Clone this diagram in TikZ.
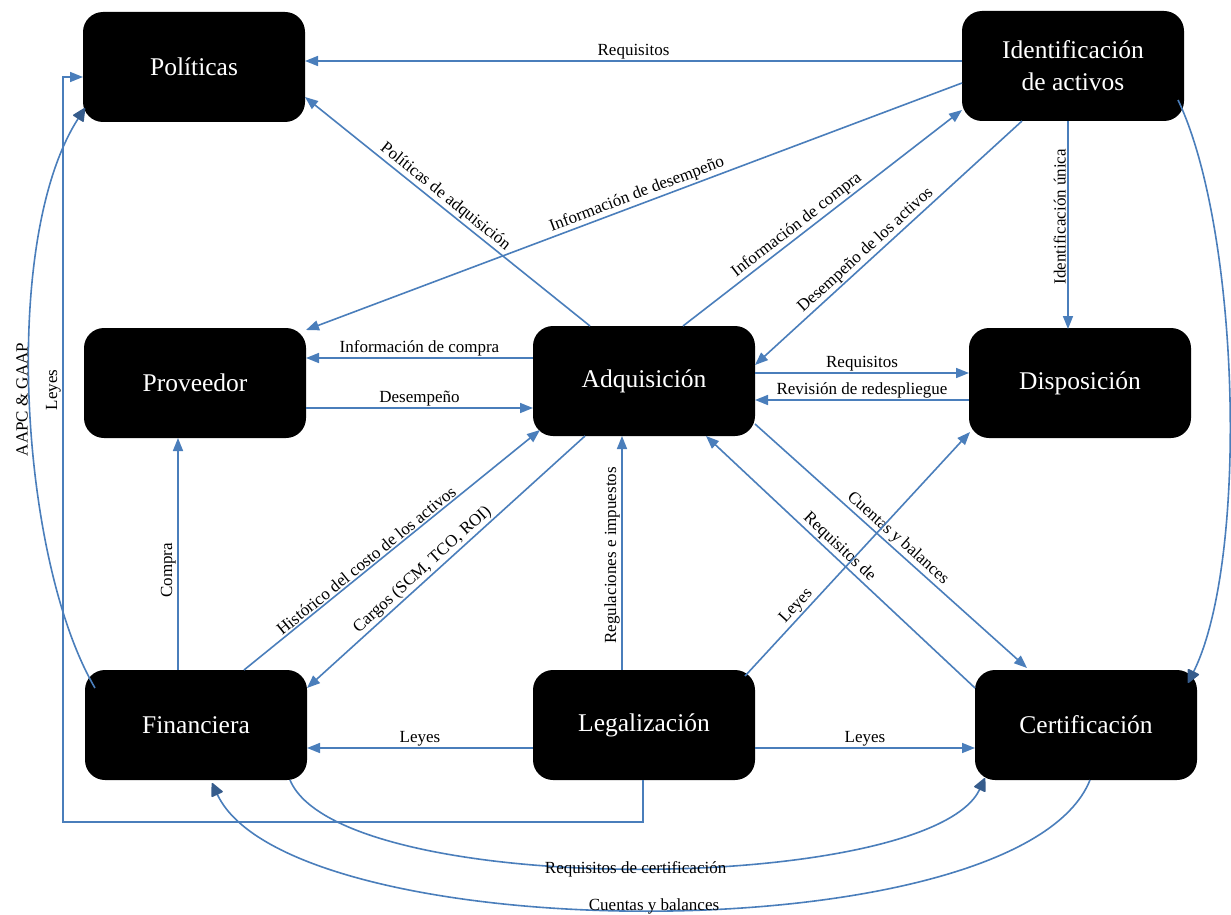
\documentclass[tikz,border=0pt]{standalone}
\usepackage{fontspec}
\setmainfont{Liberation Serif}
\usetikzlibrary{arrows.meta,calc}
\definecolor{lineblue}{RGB}{74,126,187}
\definecolor{tipblue}{RGB}{54,92,140}
\begin{document}
\begin{tikzpicture}[x=1pt,y=-1pt,
  box/.style={fill=black, rounded corners=20pt, minimum width=222pt, minimum height=110pt,
    text=white, font=\fontsize{25.5}{32}\selectfont, align=center, inner sep=0pt},
  link/.style={draw=lineblue, line width=1.6pt, -{Triangle[length=13pt,width=10pt]}},
  curveflow/.style={draw=lineblue, line width=1.6pt, -{Triangle[round,length=14pt,width=13pt,color=tipblue]}},
  lbl/.style={font=\fontsize{17}{19}\selectfont, text=black, inner sep=1.5pt},
  vlbl/.style={lbl, rotate=90, anchor=south}]
\useasboundingbox[fill=white] (0,0) rectangle (1231,915);

% process boxes
\node[box] (pol) at (194,67)   {Políticas};
\node[box] (idn) at (1073,66)  {Identificación\\de activos};
\node[box] (prv) at (195,383)  {Proveedor};
\node[box] (adq) at (644,381)  {Adquisición};
\node[box] (dsp) at (1080,383) {Disposición};
\node[box] (fin) at (196,725)  {Financiera};
\node[box] (leg) at (644,725)  {Legalización};
\node[box] (cer) at (1086,725) {Certificación};

% straight flows
\draw[link] ($(idn.center)+(-111,-5)$) -- node[lbl,above] {Requisitos} ($(pol.center)+(111,-6)$);
\draw[link] ($(idn.center)+(-111,17)$) -- node[lbl,above,sloped,pos=0.49] {Información de desempeño} ($(prv.center)+(111,-53)$);
\draw[link] ($(adq.center)+(-54,-55)$) -- node[lbl,above,sloped,pos=0.53] {Políticas de adquisición} ($(pol.center)+(111,30)$);
\draw[link] ($(adq.center)+(39,-55)$) -- node[lbl,above,sloped,pos=0.43] {Información de compra} ($(idn.center)+(-111,44)$);
\draw[link] ($(idn.center)+(-51,55)$) -- node[lbl,above,sloped,pos=0.56] {Desempeño de los activos} ($(adq.center)+(111,-16)$);
\draw[link] ($(idn.center)+(-5,55)$) -- node[vlbl,pos=0.46] {Identificación única} ($(dsp.center)+(-12,-54)$);
\draw[link] ($(adq.center)+(-111,-23)$) -- node[lbl,above] {Información de compra} ($(prv.center)+(111,-25)$);
\draw[link] ($(prv.center)+(111,25)$) -- node[lbl,above] {Desempeño} ($(adq.center)+(-111,27)$);
\draw[link] ($(adq.center)+(111,-8)$) -- node[lbl,above] {Requisitos} ($(dsp.center)+(-111,-10)$);
\draw[link] ($(dsp.center)+(-111,17)$) -- node[lbl,above] {Revisión de redespliegue} ($(adq.center)+(111,19)$);
\draw[link] ($(fin.center)+(-18,-55)$) -- node[vlbl,pos=0.43] {Compra} ($(prv.center)+(-17,55)$);
\draw[link] ($(fin.center)+(48,-55)$) -- node[lbl,above,sloped,pos=0.43] {Histórico del costo de los activos} ($(adq.center)+(-104,49)$);
\draw[link] ($(adq.center)+(-59,55)$) -- node[lbl,above,sloped,pos=0.56] {Cargos (SCM, TCO, ROI)} ($(fin.center)+(111,-37)$);
\draw[link] ($(leg.center)+(-22,-55)$) -- node[vlbl,pos=0.49] {Regulaciones e impuestos} ($(adq.center)+(-22,55)$);
\draw[link] ($(adq.center)+(111,43)$) -- node[lbl,above,sloped,pos=0.5] {Cuentas y balances} ($(cer.center)+(-59,-57)$);
\draw[link] ($(cer.center)+(-111,-37)$) -- node[lbl,above,sloped,pos=0.53] {Requisitos de} ($(adq.center)+(62,55)$);
\draw[link] ($(leg.center)+(101,-49)$) -- node[lbl,above,sloped,pos=0.26] {Leyes} ($(dsp.center)+(-110,49)$);
\draw[link] ($(leg.center)+(-111,23)$) -- node[lbl,above] {Leyes} ($(fin.center)+(111,23)$);
\draw[link] ($(leg.center)+(111,23)$) -- node[lbl,above] {Leyes} ($(cer.center)+(-111,23)$);

% elbow from Legalización round the left side to Políticas
\draw[link] ($(leg.center)+(-1,55)$) -- ++(0,42)
  -| node[vlbl,pos=0.79] {Leyes} ($(pol.center)+(-131,10)$)
  -- ($(pol.center)+(-111,10)$);

% curved flows
\draw[curveflow] ($(fin.center)+(-101,-37)$) .. controls (20,560) and (0,240) ..
  node[vlbl,pos=0.5] {AAPC \& GAAP} ($(pol.center)+(-109,41)$);
\draw[curveflow] ($(idn.center)+(105,34)$) .. controls (1240,230) and (1249,560) .. ($(cer.center)+(102,-42)$);
\draw[curveflow] ($(fin.center)+(94,55)$) .. controls (340,900) and (930,895) ..
  node[lbl,pos=0.5,yshift=-1pt] {Requisitos de certificación} ($(cer.center)+(-101,53)$);
\draw[curveflow] ($(cer.center)+(4,55)$) .. controls (1020,955) and (290,950) ..
  node[lbl,pos=0.5,yshift=3pt] {Cuentas y balances} ($(fin.center)+(16,58)$);
\end{tikzpicture}
\end{document}
